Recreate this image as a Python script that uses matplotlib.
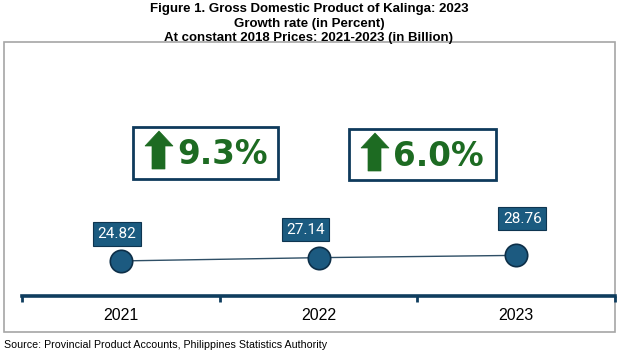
import matplotlib
matplotlib.use("Agg")
import matplotlib.pyplot as plt
from matplotlib.patches import Rectangle, Polygon

years = ["2021", "2022", "2023"]
gdp = [24.82, 27.14, 28.76]
growth_labels = ["9.3%", "6.0%"]
title_lines = ["Figure 1. Gross Domestic Product of Kalinga: 2023",
               "Growth rate (in Percent)",
               "At constant 2018 Prices: 2021-2023 (in Billion)"]
source = "Source: Provincial Product Accounts, Philippines Statistics Authority"

W, H = 618, 354
fig = plt.figure(figsize=(W / 100, H / 100), dpi=100)

NARROW = ["Liberation Sans Narrow", "Liberation Sans", "DejaVu Sans"]

# overlay axes in pixel coordinates for decorations
ov = fig.add_axes([0, 0, 1, 1], zorder=0)
ov.set_xlim(0, W)
ov.set_ylim(H, 0)
ov.axis("off")

# frame
ov.add_patch(Rectangle((4, 42), 611, 290, fill=False, edgecolor="#a6a6a6", lw=1.2))

# titles
for i, t in enumerate(title_lines):
    ov.text(309, 9 + i * 14.5, t, ha="center", va="center", fontsize=9.5,
            fontweight="bold", family=NARROW, color="#000000")
ov.text(4, 345, source, ha="left", va="center", fontsize=7.7, family=NARROW, color="#000000")

# main data axes
x0, x1 = 22, 615
ybot, ytop = 296, 46
ax = fig.add_axes([x0 / W, (H - ybot) / H, (x1 - x0) / W, (ybot - ytop) / H], zorder=2)
ax.patch.set_alpha(0)
xs = list(range(len(years)))
ax.plot(xs, gdp, color="#2f4f66", lw=1.0, zorder=2)
ax.scatter(xs, gdp, s=260, color="#1c5a80", edgecolor="#0d2f48", linewidth=1.2, zorder=3)
ax.set_xlim(-0.5, len(years) - 0.5)
ax.set_ylim(0, 177)

offsets = [(-4, 27), (-13, 28), (6, 36.5)]
for x, v, (dx, dy) in zip(xs, gdp, offsets):
    ax.annotate(f"{v:.2f}", (x, v), xytext=(dx, dy), textcoords="offset pixels",
                ha="center", va="center", color="white", fontsize=11, family=["Roboto", "DejaVu Sans"],
                bbox=dict(boxstyle="square,pad=0.3", fc="#1b5b80", ec="#0e3550", lw=0.8), zorder=4)

for s in ["top", "left", "right"]:
    ax.spines[s].set_visible(False)
ax.spines["bottom"].set_color("#0f3d5e")
ax.spines["bottom"].set_linewidth(2.6)
ax.set_yticks([])
ax.set_xticks([-0.5, 0.5, 1.5, 2.5])
ax.set_xticklabels([])
ax.tick_params(axis="x", which="major", direction="out", length=4, width=2, color="#0f3d5e")
ax.set_xticks(xs, minor=True)
ax.set_xticklabels(years, minor=True, fontsize=11.5, family=["Liberation Sans", "DejaVu Sans"])
ax.tick_params(axis="x", which="minor", length=0, pad=9)

# growth boxes
boxes = [(133, 127, 145, 52), (349, 129, 147, 51)]
green = "#1d6b22"
for (bx, by, bw, bh), lab in zip(boxes, growth_labels):
    ov.add_patch(Rectangle((bx, by), bw, bh, fill=True, fc="white", edgecolor="#0e3a5c", lw=2))
    ax_ = bx + 12
    top = by + 4
    arrow = [(ax_, top + 15), (ax_ + 14, top), (ax_ + 28, top + 15), (ax_ + 20, top + 15),
             (ax_ + 20, top + 38), (ax_ + 7, top + 38), (ax_ + 7, top + 15)]
    ov.add_patch(Polygon(arrow, closed=True, fc=green, ec=green, lw=0.5))
    ov.text(ax_ + 32, by + bh / 2 + 2, lab, ha="left", va="center", fontsize=23.5,
            fontweight="bold", family=["DejaVu Sans"], color=green)

fig.savefig("out.png", dpi=100)
